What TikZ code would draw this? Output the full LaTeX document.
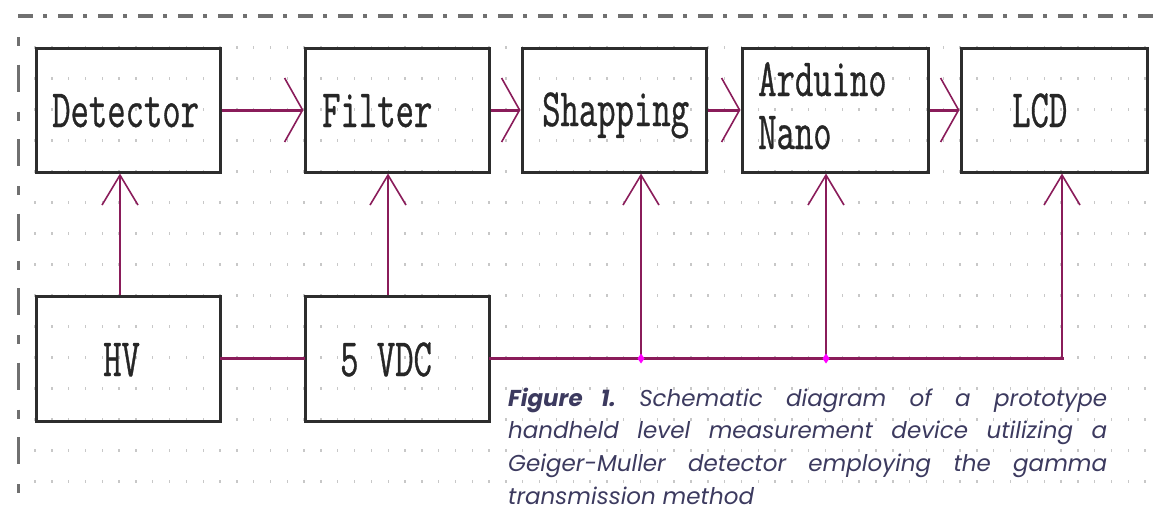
\documentclass[tikz,border=0pt]{standalone}
\usepackage{fontspec}
\usetikzlibrary{arrows.meta}
\newfontfamily\boxfont[FakeStretch=0.66, FakeBold=0.6]{Latin Modern Mono}
\newfontfamily\capfont{Poppins}
\definecolor{wire}{RGB}{138,28,90}
\definecolor{junct}{RGB}{255,0,255}
\definecolor{frame}{RGB}{112,112,112}
\definecolor{gridc}{RGB}{200,200,200}
\definecolor{edge}{RGB}{45,45,45}
\definecolor{captc}{RGB}{60,58,95}
\begin{document}
\begin{tikzpicture}[x=1pt,y=-1pt,
  block/.style={draw=edge, line width=3pt, minimum width=184pt, minimum height=124pt, inner sep=0pt},
  btext/.style={font=\boxfont\fontsize{54pt}{53pt}\selectfont, text=black!85, inner sep=0pt, anchor=base west},
  hwire/.style={draw=wire, line width=3pt, line cap=rect},
  vwire/.style={draw=wire, line width=2pt},
  harrow/.style={draw=wire, line width=3pt, -{Straight Barb[length=18pt, width=64pt, line width=1.6pt]}},
  varrow/.style={vwire, -{Straight Barb[length=30pt, width=36pt, line width=1.6pt]}},
  capnode/.style={font=\capfont\itshape\frenchspacing\fontsize{23pt}{32.7pt}\selectfont, text=captc, inner sep=0pt, text width=599pt, align=justify}
]
\useasboundingbox (0,0) rectangle (1155,509);

% dotted drawing grid
\foreach \i in {0,...,66}
  \foreach \j in {0,...,14}
    \fill[gridc] ({35+16.82*\i-0.7},{47.5+31*\j-1.5}) rectangle ++(1.4,3);

% dash-dot sheet frame
\draw[frame, line width=4pt, dash pattern=on 15pt off 10pt on 4pt off 11pt] (18,16) -- (1155,16);
\draw[frame, line width=3pt, dash pattern=on 9pt off 18.5pt on 27pt off 20pt] (18,37) -- (18,495);

% blocks
\node[block] (det) at (128,110) {};
\node[block] (fil) at (397,110) {};
\node[block] (shp) at (614,110) {};
\node[block, minimum width=186pt] (ard) at (835,110) {};
\node[block, minimum width=186pt] (lcd) at (1054,110) {};
\node[block, minimum height=125pt] (hv) at (128,358.5) {};
\node[block, minimum height=125pt] (vdc) at (397,358.5) {};

% block labels
\node[btext] (detT) at (52,127) {Detector};
\node[btext] (filT) at (322,127) {Filter};
\node[btext] (shpT) at (542,126) {Shapping};
\node[btext] (ardT1) at (758,96) {Arduino};
\node[btext] (ardT2) at (758,149) {Nano};
\node[btext] (lcdT) at (1012,127) {LCD};
\node[btext] (hvT) at (103,376) {HV};
\node[btext] (vdcT) at (340,376) {5 VDC};

% signal chain
\draw[harrow] (det.east) -- (fil.west);
\draw[harrow] (fil.east) -- (shp.west);
\draw[harrow] (shp.east) -- (ard.west);
\draw[harrow] (ard.east) -- (lcd.west);

% supply wiring
\coordinate (xa) at (120,0);
\coordinate (xb) at (388,0);
\coordinate (j1) at (641,358.5);
\coordinate (j2) at (826,358.5);
\coordinate (corner) at (1062,358.5);
\draw[hwire] (hv.east) -- (vdc.west);
\draw[varrow] (hv.north -| xa) -- (det.south -| xa);
\draw[varrow] (vdc.north -| xb) -- (fil.south -| xb);
\draw[hwire] (vdc.east) -- (corner);
\draw[varrow] (j1) -- (j1 |- shp.south);
\draw[varrow] (j2) -- (j2 |- ard.south);
\draw[varrow] (corner) -- (corner |- lcd.south);
\foreach \p in {j1,j2}
  \fill[junct] (\p) +(0,-5) -- +(3.5,0) -- +(0,5) -- +(-3.5,0) -- cycle;

% caption
\node[capnode, anchor=base west] (cap) at (508,406) {\textbf{Figure 1.} Schematic diagram of a prototype\linebreak handheld level measurement device utilizing a\linebreak Geiger-Muller detector employing the gamma\linebreak transmission method};
\end{tikzpicture}
\end{document}
